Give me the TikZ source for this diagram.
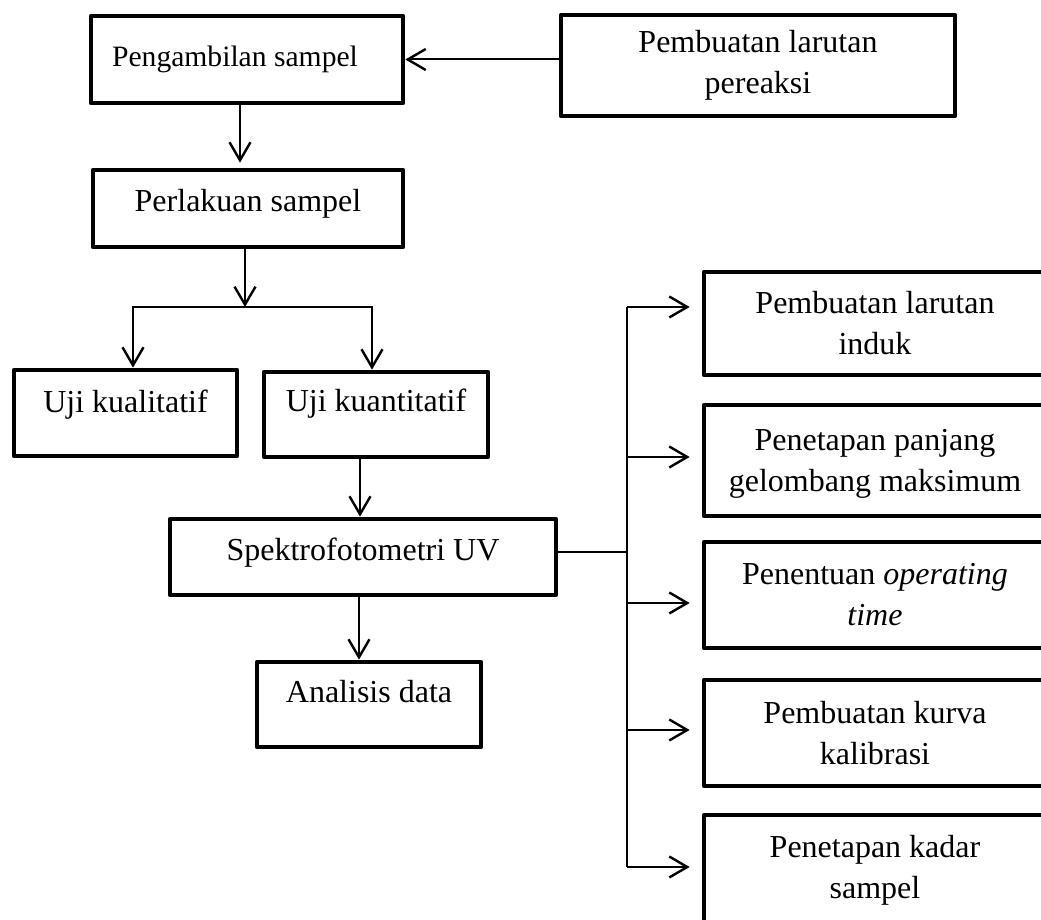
\documentclass[tikz,border=0pt]{standalone}
\usepackage{fontspec}
\setmainfont{Liberation Serif}
\usepackage{tikz}
\usetikzlibrary{arrows.meta}
\usetikzlibrary{calc}
\tikzstyle{box} = [draw,line width=2.35pt,line join=round,rectangle,align=center,inner sep=0pt,font=\fontsize{16}{20.5}\selectfont]
\tikzstyle{arrow} = [line width=1pt,-{Straight Barb[length=9pt,width=10.5pt,line width=1.2pt]}]
\tikzstyle{line} = [line width=1pt]
\tikzset{lift/.style={text height=10.9pt,text depth=#1}}

\begin{document}
\begin{tikzpicture}[x=0.5pt,y=-0.5pt]
\useasboundingbox (0,0) rectangle (1041,920);

\node[box,minimum width=156pt,minimum height=43.5pt,font=\fontsize{14.8}{20.5}\selectfont] (ambil) at (247,59.5) {Pengambilan sampel\hspace{12pt}};
\node[box,minimum width=197pt,minimum height=50.5pt] (pereaksi) at (758,65.5) {Pembuatan larutan\\pereaksi};
\node[box,minimum width=155pt,minimum height=38.5pt,lift=7.4pt] (perlakuan) at (248,208.5) {Perlakuan sampel};
\node[box,minimum width=111.5pt,minimum height=43pt,lift=11.4pt] (kuali) at (125.5,413) {Uji kualitatif};
\node[box,minimum width=112pt,minimum height=42.5pt,lift=13.4pt] (kuanti) at (376,414.5) {Uji kuantitatif};
\node[box,minimum width=193pt,minimum height=38pt,lift=7.9pt] (spek) at (363,557) {Spektrofotometri UV};
\node[box,minimum width=112pt,minimum height=42.5pt,lift=13.4pt] (analisis) at (369,704.5) {Analisis data};

\node[box,minimum width=171pt,minimum height=51.5pt] (r1) at (875,323.5) {Pembuatan larutan\\induk};
\node[box,minimum width=171pt,minimum height=55.5pt] (r2) at (875,460.5) {\rule{0pt}{14pt}Penetapan panjang\\gelombang maksimum};
\node[box,minimum width=171pt,minimum height=53pt] (r3) at (875,595) {Penentuan \textit{operating}\\\textit{time}};
\node[box,minimum width=171pt,minimum height=53pt] (r4) at (875,733) {Pembuatan kurva\\kalibrasi};
\node[box,minimum width=171pt,minimum height=55pt] (r5) at (875,870) {Penetapan kadar\\sampel};

% alur utama
\draw[arrow] (pereaksi.west |- ambil.east) -- (ambil.east);
\draw[arrow,shorten >=2.5pt] ($(ambil.south)+(-3.5pt,0)$) -- ($(ambil.south |- perlakuan.north)+(-3.5pt,0)$);
\coordinate (fork) at (245,307);
\draw[arrow] (perlakuan.south -| fork) -- (fork);
\draw[arrow] (fork) -| ($(kuali.north)+(3.75pt,0)$);
\draw[arrow] (fork) -| ($(kuanti.north)+(-2pt,0)$);
\draw[arrow] ($(spek.north |- kuanti.south)+(-1.5pt,0)$) -- ($(spek.north)+(-1.5pt,0)$);
\draw[arrow] ($(spek.south)+(-2pt,0)$) -- ($(spek.south |- analisis.north)+(-2pt,0)$);

% cabang spektrofotometri
\coordinate (bus) at (627,307);
\foreach \n/\dy in {r1/8.25,r2/1.75,r3/-4,r4/1.5,r5/1.5}{
  \coordinate (\n-in) at ($(\n.west)+(0,\dy pt)$);
  \draw[arrow,shorten >=6pt] (bus |- \n-in) -- (\n-in);
}
\draw[line] (bus) -- (bus |- r5-in);
\draw[line] ($(spek.east)+(0,2.5pt)$) -- ($(spek.east -| bus)+(0,2.5pt)$);

\end{tikzpicture}
\end{document}
